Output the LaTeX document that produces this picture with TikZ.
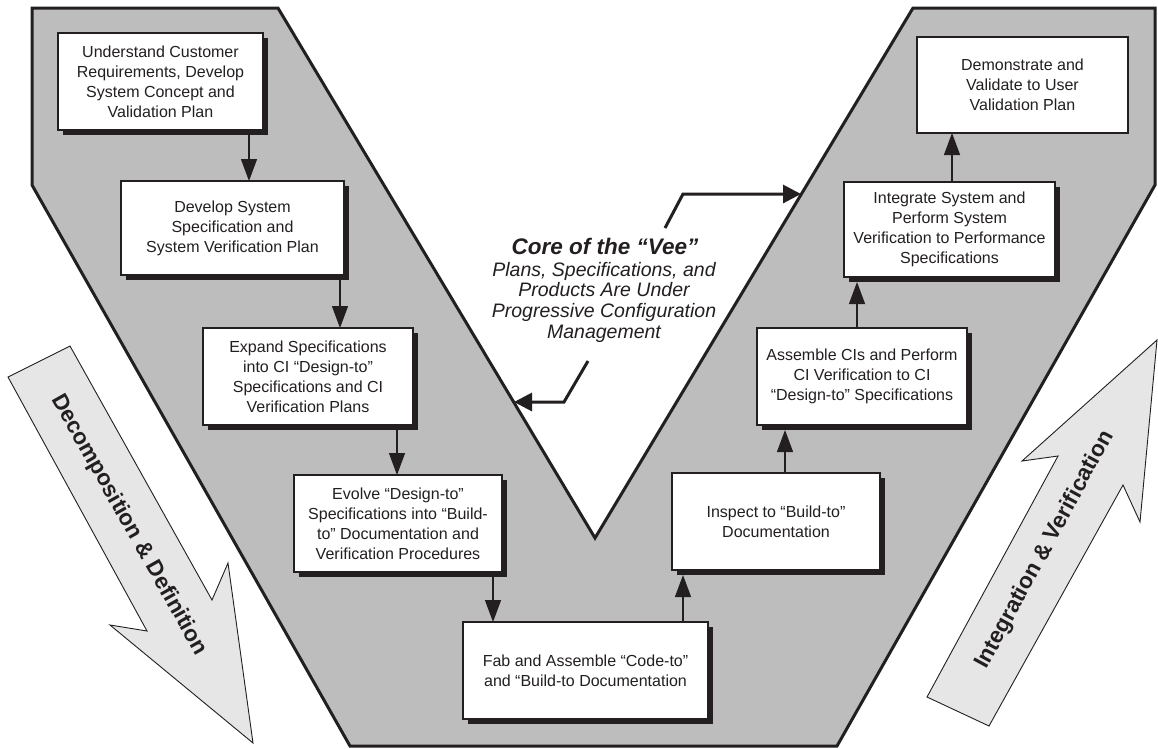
\documentclass[tikz,border=0pt]{standalone}
\usepackage{fontspec}
\setmainfont{Liberation Sans}
\usetikzlibrary{arrows.meta,shadows}
\definecolor{veegray}{HTML}{BDBDBD}
\definecolor{arrowgray}{HTML}{E6E6E6}
\definecolor{ink}{HTML}{231F20}

\begin{document}
\begin{tikzpicture}[x=1pt,y=-1pt,
  stepbox/.style={draw=ink, line width=1.2pt, fill=white, inner sep=0pt, outer sep=0pt,
    anchor=north west, align=center, font=\fontsize{16}{20}\selectfont, text=ink},
  shadowed/.style={general shadow={fill=ink, shadow xshift=5pt, shadow yshift=-5pt}},
  conn/.style={draw=ink, line width=1.3pt, -{Triangle[length=22pt,width=16pt]}},
  corearrow/.style={draw=ink, line width=3pt, -{Triangle[length=18pt,width=18pt]}},
  bigarrow/.style={draw=ink, line width=0.9pt, fill=arrowgray, line join=miter},
  biglabel/.style={font=\bfseries\fontsize{22.5}{24}\selectfont, text=ink}
]
\useasboundingbox (0,0) rectangle (1158,748);

% the "Vee" band
\draw[draw=ink, line width=3pt, fill=veegray, line join=miter]
  (32,8) -- (278,8) -- (595,538) -- (913,8) -- (1155,8) -- (1155,185)
  -- (837,746) -- (350,746) -- (32,185) -- cycle;

% broad direction arrows on either side
\draw[bigarrow] (8,377) -- (70,346) -- (212,600) -- (228,563) -- (253,743)
  -- (110,625) -- (147,631) -- cycle;
\node[biglabel, rotate=-60.6] (decomp) at (129,525) {Decomposition \& Definition};

\draw[bigarrow] (927,697) -- (989,726) -- (1123,485) -- (1140,522) -- (1157,340)
  -- (1022,461) -- (1058,456) -- cycle;
\node[biglabel, rotate=61.5] (integ) at (1045,550) {Integration \& Verification};

% process steps, left leg (decomposition)
\node[stepbox, shadowed, minimum width=205pt, minimum height=97pt] (b1) at (58,33)
  {Understand Customer\\Requirements, Develop\\System Concept and\\Validation Plan};
\node[stepbox, shadowed, minimum width=223pt, minimum height=94pt] (b2) at (121,181)
  {Develop System\\Specification and\\System Verification Plan};
\node[stepbox, shadowed, minimum width=210pt, minimum height=97pt] (b3) at (203,328)
  {Expand Specifications\\into CI “Design-to”\\Specifications and CI\\Verification Plans};
\node[stepbox, shadowed, minimum width=208pt, minimum height=97pt] (b4) at (294,475)
  {Evolve “Design-to”\\Specifications into “Build-\\to” Documentation and\\Verification Procedures};

% bottom of the vee
\node[stepbox, shadowed, minimum width=245pt, minimum height=97pt] (b5) at (463,622)
  {Fab and Assemble “Code-to”\\and “Build-to Documentation};

% process steps, right leg (integration)
\node[stepbox, shadowed, minimum width=208pt, minimum height=97pt] (b6) at (672,473)
  {Inspect to “Build-to”\\Documentation};
\node[stepbox, shadowed, minimum width=210pt, minimum height=97pt] (b7) at (757,328)
  {Assemble CIs and Perform\\CI Verification to CI\\“Design-to” Specifications};
\node[stepbox, shadowed, minimum width=211pt, minimum height=95pt] (b8) at (844,182)
  {Integrate System and\\Perform System\\Verification to Performance\\Specifications};
\node[stepbox, minimum width=211pt, minimum height=96pt] (b9) at (917,37)
  {Demonstrate and\\Validate to User\\Validation Plan};

% flow between steps
\draw[conn] ([xshift=88.5pt]b1.south) -- ([xshift=16.5pt]b2.north);
\draw[conn] ([xshift=107.5pt]b2.south) -- ([xshift=32pt]b3.north);
\draw[conn] ([xshift=89pt]b3.south) -- ([xshift=-1pt]b4.north);
\draw[conn] ([xshift=95pt]b4.south) -- ([xshift=-92.5pt]b5.north);
\draw[conn] ([xshift=97.5pt]b5.north) -- ([xshift=-93pt,yshift=-5pt]b6.south);
\draw[conn] ([xshift=9pt]b6.north) -- ([xshift=-77pt,yshift=-5pt]b7.south);
\draw[conn] ([xshift=-5pt]b7.north) -- ([xshift=-92.5pt,yshift=-5pt]b8.south);
\draw[conn] ([xshift=2.5pt]b8.north) -- ([xshift=-70.5pt]b9.south);

% core of the vee
\node[font=\bfseries\itshape\fontsize{22.5}{24}\selectfont, text=ink] (coretitle) at (605,246)
  {Core of the “Vee”};
\node[font=\itshape\fontsize{19.5}{20.7}\selectfont, align=center, text=ink] (corebody) at (604,302)
  {Plans, Specifications, and\\Products Are Under\\Progressive Configuration\\Management};

\coordinate (upstart) at (665,228);
\coordinate (upbend) at (683,194);
\coordinate (upend) at (801,194);
\coordinate (downstart) at (588,361);
\coordinate (downbend) at (564,402);
\coordinate (downend) at (514,402);
\draw[corearrow] (upstart) -- (upbend) -- (upend);
\draw[corearrow] (downstart) -- (downbend) -- (downend);
\end{tikzpicture}
\end{document}
